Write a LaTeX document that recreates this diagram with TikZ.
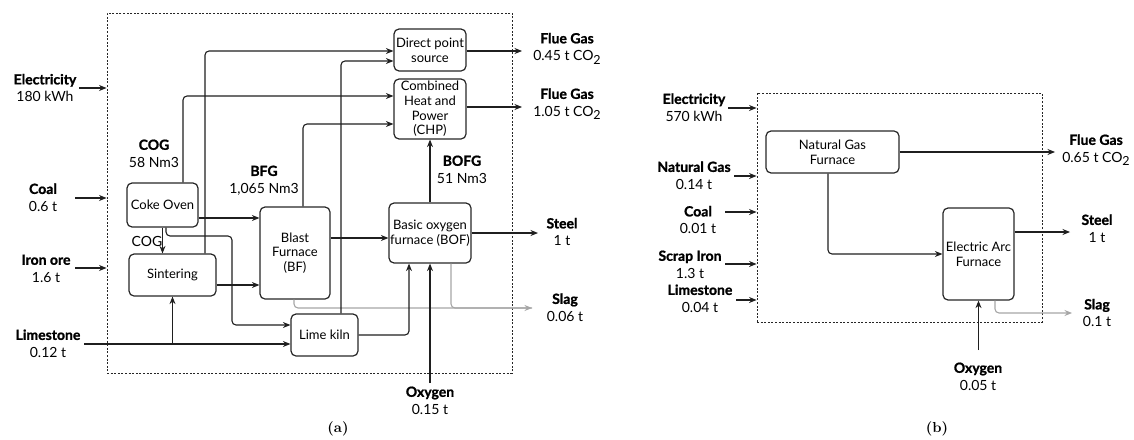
\documentclass[tikz,border=0pt]{standalone}
\usepackage{fontspec}
\setsansfont{Lato}[BoldFeatures={FakeBold=1.2}]
\newfontfamily\capfont{lmroman10-bold}[Extension=.otf]
\usetikzlibrary{arrows.meta}
\newcommand{\cotwo}{CO\raisebox{-0.45ex}{\fontsize{12.5}{12.5}\selectfont 2}}
\begin{document}
\begin{tikzpicture}[x=1pt,y=-1pt,
  box/.style={draw=black!85, line width=1.2pt, rounded corners=5pt, inner sep=0pt, align=center, font=\sffamily\fontsize{13}{14.7}\selectfont},
  lbl/.style={align=center, inner sep=0pt, font=\sffamily\fontsize{14}{17.5}\selectfont},
  frame/.style={draw=black!85, line width=0.9pt, dash pattern=on 2pt off 1.6pt, inner sep=0pt},
  flow/.style={draw=black!88, line width=1.1pt, rounded corners=4pt, -{Stealth[length=7.5pt,width=6pt]}},
  slag/.style={draw=black!35, line width=1.1pt, rounded corners=4pt},
  slagarr/.style={slag, -{Stealth[length=7.5pt,width=6pt]}},
  captxt/.style={inner sep=0pt, font=\capfont\fontsize{14.5}{16}\selectfont}
]
\useasboundingbox (0,0) rectangle (1134,439);

% ---------------- (a) ----------------
\node[frame, minimum width=405pt, minimum height=360pt] (boxa) at (309.5,193) {};

\node[box, minimum width=71pt, minimum height=44pt] (coke) at (162.5,205) {Coke Oven};
\node[box, minimum width=87pt, minimum height=42pt] (sint) at (172.5,275) {Sintering};
\node[box, minimum width=70pt, minimum height=92pt] (bf) at (295,253) {Blast\\Furnace\\(BF)};
\node[box, minimum width=67pt, minimum height=42pt] (lime) at (324.5,335) {Lime kiln};
\node[box, minimum width=82pt, minimum height=60pt] (bof) at (430,233) {Basic oxygen\\furnace (BOF)};
\node[box, minimum width=72pt, minimum height=42pt] (dps) at (430,50) {Direct point\\source};
\node[box, minimum width=72pt, minimum height=60pt] (chp) at (430,109) {Combined\\Heat and\\Power\\(CHP)};

\node[lbl] (lElec) at (45,88) {\textbf{Electricity}\\180 kWh};
\node[lbl] (lCoal) at (43,197.5) {\textbf{Coal}\\0.6 t};
\node[lbl] (lIron) at (46,268.5) {\textbf{Iron ore}\\1.6 t};
\node[lbl] (lLime) at (48,343.5) {\textbf{Limestone}\\0.12 t};
\node[lbl] (lCOG) at (154,153.5) {\textbf{COG}\\58 Nm3};
\node[lbl] (lBFG) at (264,180.5) {\textbf{BFG}\\1,065 Nm3};
\node[lbl] (lFG1) at (567,48.5) {\textbf{Flue Gas}\\0.45 t \cotwo};
\node[lbl] (lFG2) at (567,104) {\textbf{Flue Gas}\\1.05 t \cotwo};
\node[lbl] (lBOFG) at (462,169.5) {\textbf{BOFG}\\51 Nm3};
\node[lbl] (lSteel) at (562,232) {\textbf{Steel}\\1 t};
\node[lbl] (lSlag) at (565,307.5) {\textbf{Slag}\\0.06 t};
\node[lbl] (lOxy) at (430,400.5) {\textbf{Oxygen}\\0.15 t};
\node[lbl] (lCOG2) at (147,241) {COG};
\node[captxt] (capa) at (338,429) {(a)};

\coordinate (ch1) at (205,51);
\coordinate (ch2) at (341,61);
\coordinate (ch3) at (183,96);
\coordinate (ch4) at (303,124);
\coordinate (fgA) at (522,51);
\coordinate (fgB) at (522,107);
\coordinate (cb) at (0,218);
\coordinate (sb) at (0,285);
\coordinate (bb) at (0,238);
\coordinate (k1) at (166,236);
\coordinate (k2) at (232,325);
\coordinate (lsA) at (84,344);
\coordinate (lb) at (409,0);
\coordinate (oxA) at (430,383);
\coordinate (stA) at (538,0);
\coordinate (g1) at (294,0);
\coordinate (g2) at (451,0);
\coordinate (slA) at (532,308);
\coordinate (inE) at (79,88);
\coordinate (inC) at (75,198);
\coordinate (inI) at (75,268);

\draw[slagarr] (bf.south -| g1) |- (slA);
\draw[slag] (bof.south -| g2) |- (slA);

\draw[flow] (sint.north -| ch1) |- (dps.west |- ch1);
\draw[flow] (lime.north -| ch2) |- (dps.west |- ch2);
\draw[flow] (coke.north -| ch3) |- (chp.west |- ch3);
\draw[flow] (bf.north -| ch4) |- (chp.west |- ch4);
\draw[flow] (bof.north) -- (chp.south);
\draw[flow] (dps.east |- fgA) -- (fgA);
\draw[flow] (chp.east |- fgB) -- (fgB);
\draw[flow] (coke.east |- cb) -- (bf.west |- cb);
\draw[flow] (sint.east |- sb) -- (bf.west |- sb);
\draw[flow] (bf.east |- bb) -- (bof.west |- bb);
\draw[flow] (coke.south) -- (sint.north -| coke.south);
\draw[flow] (coke.south -| k1) -- (k1) -| (k2) -- (lime.west |- k2);
\draw[flow] (lsA) -- (lime.west |- lsA);
\draw[flow] (lsA -| sint.south) -- (sint.south);
\draw[flow] (lime.east) -| (bof.south -| lb);
\draw[flow] (oxA) -- (bof.south);
\draw[flow] (bof.east) -- (bof.east -| stA);
\draw[flow] (inE) -- (inE -| boxa.west);
\draw[flow] (inC) -- (inC -| boxa.west);
\draw[flow] (inI) -- (inI -| boxa.west);

% ---------------- (b) ----------------
\node[frame, minimum width=285pt, minimum height=229pt] (boxb) at (899.5,207.5) {};
\node[box, minimum width=133pt, minimum height=42pt] (ngf) at (832.5,152) {Natural Gas\\Furnace};
\node[box, minimum width=71pt, minimum height=92pt] (eaf) at (978.5,254) {Electric Arc\\Furnace};

\node[lbl] (bElec) at (694,107.5) {\textbf{Electricity}\\570 kWh};
\node[lbl] (bNG) at (694,175.5) {\textbf{Natural Gas}\\0.14 t};
\node[lbl] (bCoal) at (698,220) {\textbf{Coal}\\0.01 t};
\node[lbl] (bScrap) at (690,264.5) {\textbf{Scrap Iron}\\1.3 t};
\node[lbl] (bLime) at (700,298.5) {\textbf{Limestone}\\0.04 t};
\node[lbl] (bFG) at (1096,150) {\textbf{Flue Gas}\\0.65 t \cotwo};
\node[lbl] (bSteel) at (1097,228.5) {\textbf{Steel}\\1 t};
\node[lbl] (bSlag) at (1097,313) {\textbf{Slag}\\0.1 t};
\node[lbl] (bOxy) at (978,376.5) {\textbf{Oxygen}\\0.05 t};
\node[captxt] (capb) at (937,429) {(b)};

\coordinate (fgC) at (1055,0);
\coordinate (n1) at (828,0);
\coordinate (stB) at (1070,232);
\coordinate (g3) at (995,0);
\coordinate (slB) at (1072,313);
\coordinate (oxB) at (978.5,350);
\coordinate (iE) at (728,108);
\coordinate (iN) at (734,176);
\coordinate (iC) at (725,212);
\coordinate (iS) at (725,264);
\coordinate (iL) at (736,300);

\draw[slagarr] (eaf.south -| g3) |- (slB);
\draw[flow] (ngf.east) -- (ngf.east -| fgC);
\draw[flow] (ngf.south -| n1) |- (eaf.west);
\draw[flow] (eaf.east |- stB) -- (stB);
\draw[flow] (oxB) -- (eaf.south);
\draw[flow] (iE) -- (iE -| boxb.west);
\draw[flow] (iN) -- (iN -| boxb.west);
\draw[flow] (iC) -- (iC -| boxb.west);
\draw[flow] (iS) -- (iS -| boxb.west);
\draw[flow] (iL) -- (iL -| boxb.west);
\end{tikzpicture}
\end{document}
